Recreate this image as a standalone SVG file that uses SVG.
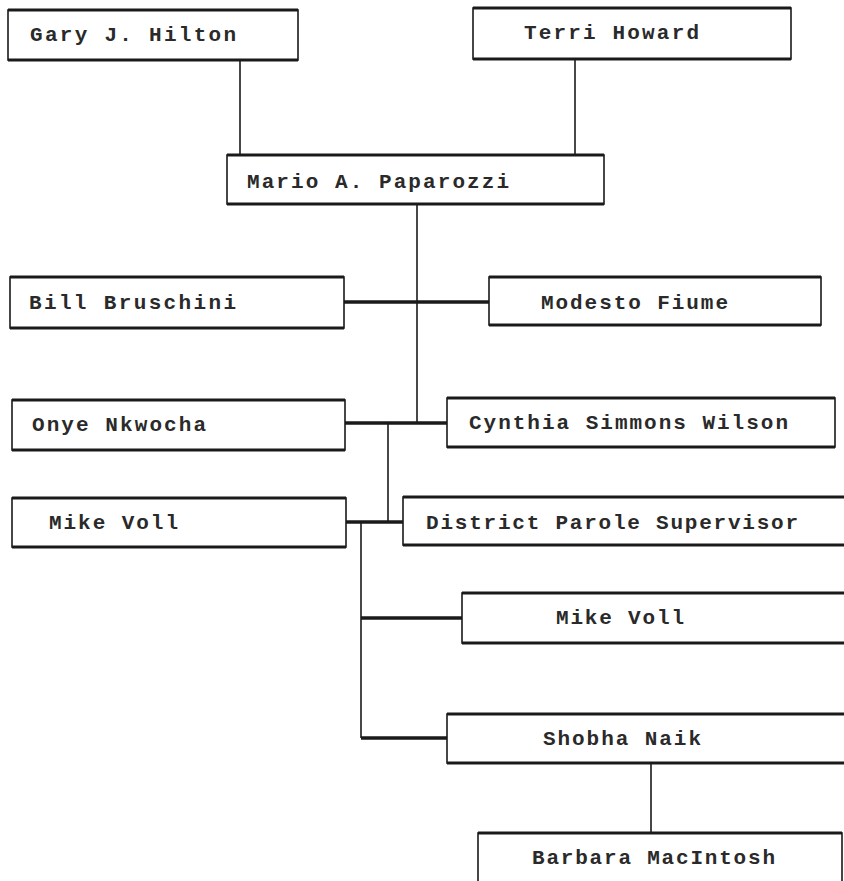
<svg xmlns="http://www.w3.org/2000/svg" width="844" height="881" viewBox="0 0 844 881">
<style>
.box{fill:#fff;stroke:#1a1a1a;stroke-width:1.6}
.edge{stroke:#1a1a1a;stroke-width:3.2;fill:none}
.lbl{font-family:"Liberation Mono","Courier New",monospace;font-size:21px;font-weight:bold;fill:#2a2a2a}
.thin{stroke:#1a1a1a;stroke-width:1.6;fill:none}
.thick{stroke:#1a1a1a;stroke-width:3.6;fill:none}
</style>
<rect width="844" height="881" fill="#fff"/>
<g id="connectors">
<line class="thin" x1="240" y1="60" x2="240" y2="155"/>
<line class="thin" x1="575" y1="59" x2="575" y2="155"/>
<line class="thin" x1="417" y1="204" x2="417" y2="423"/>
<line class="thick" x1="344" y1="302" x2="489" y2="302"/>
<line class="thick" x1="345" y1="423" x2="447" y2="423"/>
<line class="thin" x1="388" y1="423" x2="388" y2="522"/>
<line class="thick" x1="346" y1="522" x2="403" y2="522"/>
<line class="thin" x1="361" y1="522" x2="361" y2="738"/>
<line class="thick" x1="361" y1="618" x2="462" y2="618"/>
<line class="thick" x1="361" y1="738" x2="447" y2="738"/>
<line class="thin" x1="651" y1="763" x2="651" y2="833"/>
</g>
<g id="gary">
<rect class="box" x="8" y="10" width="290" height="50"/>
<path class="edge" d="M8 10H298M8 60H298"/>
<text class="lbl" x="30" y="41" textLength="206" lengthAdjust="spacing">Gary J. Hilton</text>
</g>
<g id="terri">
<rect class="box" x="473" y="8" width="318" height="51"/>
<path class="edge" d="M473 8H791M473 59H791"/>
<text class="lbl" x="524" y="39" textLength="175" lengthAdjust="spacing">Terri Howard</text>
</g>
<g id="mario">
<rect class="box" x="227" y="155" width="377" height="49"/>
<path class="edge" d="M227 155H604M227 204H604"/>
<text class="lbl" x="247" y="188" textLength="262" lengthAdjust="spacing">Mario A. Paparozzi</text>
</g>
<g id="bill">
<rect class="box" x="10" y="277" width="334" height="51"/>
<path class="edge" d="M10 277H344M10 328H344"/>
<text class="lbl" x="29" y="309" textLength="207" lengthAdjust="spacing">Bill Bruschini</text>
</g>
<g id="modesto">
<rect class="box" x="489" y="277" width="332" height="48"/>
<path class="edge" d="M489 277H821M489 325H821"/>
<text class="lbl" x="541" y="309" textLength="187" lengthAdjust="spacing">Modesto Fiume</text>
</g>
<g id="onye">
<rect class="box" x="12" y="400" width="333" height="50"/>
<path class="edge" d="M12 400H345M12 450H345"/>
<text class="lbl" x="32" y="431" textLength="174" lengthAdjust="spacing">Onye Nkwocha</text>
</g>
<g id="cynthia">
<rect class="box" x="447" y="398" width="388" height="49"/>
<path class="edge" d="M447 398H835M447 447H835"/>
<text class="lbl" x="469" y="429" textLength="319" lengthAdjust="spacing">Cynthia Simmons Wilson</text>
</g>
<g id="mikevoll1">
<rect class="box" x="12" y="498" width="334" height="49"/>
<path class="edge" d="M12 498H346M12 547H346"/>
<text class="lbl" x="49" y="529" textLength="129" lengthAdjust="spacing">Mike Voll</text>
</g>
<g id="district">
<rect class="box" x="403" y="497" width="450" height="48"/>
<path class="edge" d="M403 497H853M403 545H853"/>
<text class="lbl" x="426" y="529" textLength="372" lengthAdjust="spacing">District Parole Supervisor</text>
</g>
<g id="mikevoll2">
<rect class="box" x="462" y="593" width="390" height="50"/>
<path class="edge" d="M462 593H852M462 643H852"/>
<text class="lbl" x="556" y="624" textLength="128" lengthAdjust="spacing">Mike Voll</text>
</g>
<g id="shobha">
<rect class="box" x="447" y="714" width="405" height="49"/>
<path class="edge" d="M447 714H852M447 763H852"/>
<text class="lbl" x="543" y="745" textLength="158" lengthAdjust="spacing">Shobha Naik</text>
</g>
<g id="barbara">
<rect class="box" x="478" y="833" width="364" height="60"/>
<path class="edge" d="M478 833H842"/>
<text class="lbl" x="532" y="864" textLength="243" lengthAdjust="spacing">Barbara MacIntosh</text>
</g>
</svg>
